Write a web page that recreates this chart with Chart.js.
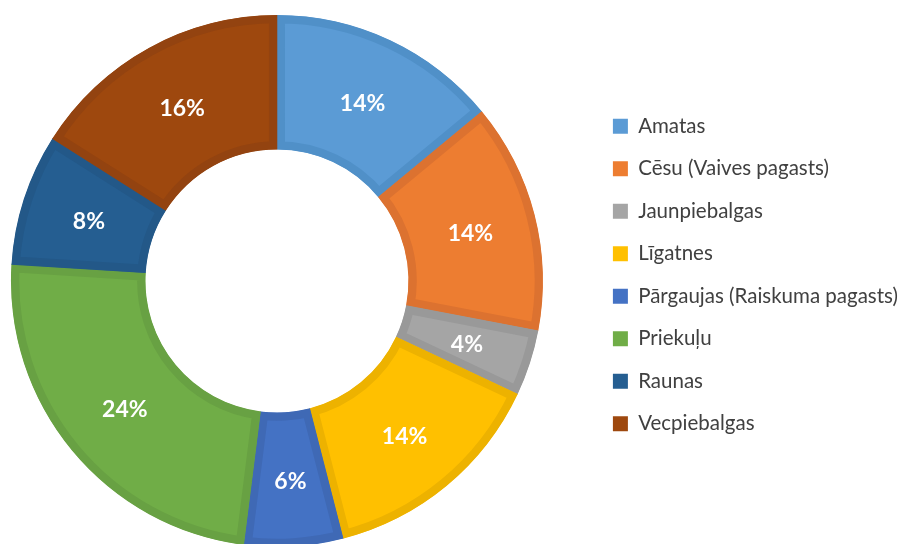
<!DOCTYPE html>
<html>
<head>
<meta charset="utf-8">
<script src="https://cdn.jsdelivr.net/npm/chart.js@4.4.1/dist/chart.umd.min.js"></script>
<style>
  html, body { margin: 0; padding: 0; background: #fff; }
  #frame { width: 900px; height: 544px; position: relative; overflow: hidden; }
  #wrap { position: absolute; left: -37px; top: 0; width: 945px; height: 544px; }
</style>
</head>
<body>
<div id="frame"><div id="wrap"><canvas id="pagastiChart"></canvas></div></div>
<script>
const labels = ['Amatas', 'Cēsu (Vaives pagasts)', 'Jaunpiebalgas', 'Līgatnes',
                'Pārgaujas (Raiskuma pagasts)', 'Priekuļu', 'Raunas', 'Vecpiebalgas'];
const shares = [14, 14, 4, 14, 6, 24, 8, 16];
const fills = ['#5B9BD5', '#ED7D31', '#A5A5A5', '#FFC000', '#4472C4', '#70AD47', '#255E91', '#9E480E'];
const edges = ['#5090C8', '#DC7230', '#999999', '#EDB200', '#3F69B5', '#68A143', '#235888', '#934310'];

// white percent labels in the middle of each ring piece
const pctLabels = {
    id: 'pctLabels',
    afterDatasetsDraw(chart) {
        const ctx = chart.ctx;
        const meta = chart.getDatasetMeta(0);
        ctx.save();
        ctx.font = 'bold 23px Lato, "Open Sans", sans-serif';
        ctx.fillStyle = '#ffffff';
        ctx.textAlign = 'center';
        ctx.textBaseline = 'middle';
        meta.data.forEach((arc, i) => {
            const p = arc.tooltipPosition();
            ctx.fillText(shares[i] + '%', p.x + 1, p.y + 2);
        });
        ctx.restore();
    }
};

new Chart('pagastiChart', {
    type: 'doughnut',
    data: {
        labels: labels,
        datasets: [{
            data: shares,
            backgroundColor: fills,
            borderColor: edges,
            borderWidth: 8,
            borderAlign: 'inner',
            borderJoinStyle: 'miter'
        }]
    },
    options: {
        responsive: true,
        maintainAspectRatio: false,
        animation: false,
        radius: 266,
        cutout: 130,
        layout: { padding: { left: 0, top: 18, right: 0, bottom: 0 } },
        plugins: {
            tooltip: { enabled: false },
            legend: {
                position: 'right',
                align: 'start',
                // empty title only used as a spacer above the items
                title: { display: true, text: '', font: { size: 10, lineHeight: 1 }, padding: { top: 66, bottom: 0 } },
                labels: {
                    boxWidth: 15,
                    boxHeight: 15,
                    padding: 22,
                    color: '#404040',
                    font: { family: 'Lato, "Open Sans", sans-serif', size: 20.5 },
                    generateLabels(chart) {
                        const items = Chart.overrides.doughnut.plugins.legend.labels.generateLabels(chart);
                        return items.map(it => Object.assign(it, { lineWidth: 0, strokeStyle: it.fillStyle }));
                    }
                }
            }
        }
    },
    plugins: [pctLabels]
});
</script>
</body>
</html>
